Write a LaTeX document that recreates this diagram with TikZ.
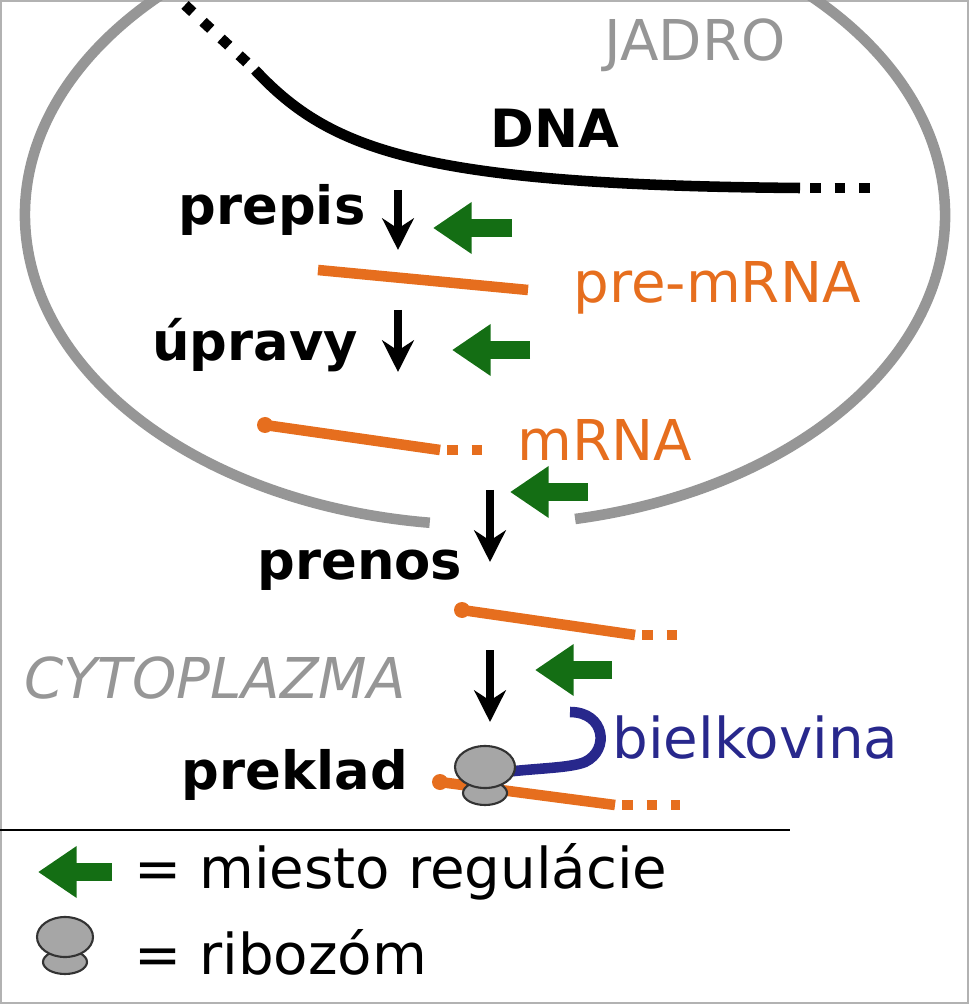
\documentclass[tikz,border=0pt]{standalone}
\usepackage{fontspec}
\setmainfont{DejaVu Sans}
\usetikzlibrary{arrows.meta}
\definecolor{rna}{RGB}{230,110,30}
\definecolor{reg}{RGB}{20,110,20}
\definecolor{prot}{RGB}{40,40,140}
\definecolor{nuc}{RGB}{150,150,150}

\begin{document}
\begin{tikzpicture}[x=0.01cm, y=-0.01cm,
	step lbl/.style={font=\bfseries\fontsize{15}{18}\selectfont},
	rna lbl/.style={text=rna, font=\fontsize{16}{19}\selectfont},
	flow/.style={-{Stealth[length=9pt,width=9pt]}, line width=2pt},
	regarrow/.style={-{Triangle[length=11pt,width=14pt]}, line width=5pt, reg},
	strand/.style={rna, line width=3pt},
	dots/.style={dash pattern=on 3pt off 4pt},
	ribo/.style={fill=gray!70, draw=gray!40!black, line width=0.6pt}]
	\useasboundingbox (0,0) rectangle (969,1004);
	\draw[gray!60] (1,1) rectangle (968,1003);

	% jadro
	\begin{scope}
	\clip (0,0) rectangle (969,1004);
	\draw[nuc, line width=3pt] (485,215) ++(-78.7:460 and -310) arc[start angle=-78.7, end angle=263.1, x radius=460, y radius=-310];
	\end{scope}
	\node[text=nuc, font=\fontsize{16}{19}\selectfont] (jadro) at (695,45) {JADRO};

	% DNA
	\draw[line width=3pt] (255,70) .. controls (330,150) and (420,185) .. (800,188);
	\draw[line width=3pt, dots] (185,5) -- (255,70);
	\draw[line width=3pt, dots] (810,188) -- (880,188);
	\node[step lbl] (dna) at (555,128) {DNA};

	% prepis
	\node[step lbl] (prepis) at (272,210) {prepis};
	\coordinate (p1) at (398,190); \coordinate (p2) at (398,250);
	\draw[flow] (p1) -- (p2);
	\coordinate (g1a) at (512,228); \coordinate (g1b) at (433,228);
	\draw[regarrow] (g1a) -- (g1b);
	\draw[strand] (318,270) -- (528,290);
	\node[rna lbl] (premrna) at (717,288) {pre-mRNA};

	% upravy
	\node[step lbl] (upravy) at (255,345) {úpravy};
	\coordinate (u1) at (398,310); \coordinate (u2) at (398,372);
	\draw[flow] (u1) -- (u2);
	\coordinate (g2a) at (530,350); \coordinate (g2b) at (452,350);
	\draw[regarrow] (g2a) -- (g2b);
	\fill[rna] (265,425) circle (8);
	\draw[strand] (265,425) -- (440,450);
	\draw[strand, dots] (447,450) -- (485,450);
	\node[rna lbl] (mrna) at (605,440) {mRNA};

	% prenos
	\coordinate (t1) at (490,490); \coordinate (t2) at (490,562);
	\draw[flow] (t1) -- (t2);
	\coordinate (g3a) at (588,492); \coordinate (g3b) at (510,492);
	\draw[regarrow] (g3a) -- (g3b);
	\node[step lbl] (prenos) at (360,570) {prenos};
	\fill[rna] (462,610) circle (8);
	\draw[strand] (462,610) -- (635,635);
	\draw[strand, dots] (642,635) -- (690,635);

	% cytoplazma
	\node[text=nuc, font=\itshape\fontsize{16}{19}\selectfont] (cyto) at (215,678) {CYTOPLAZMA};
	\coordinate (k1) at (490,650); \coordinate (k2) at (490,722);
	\draw[flow] (k1) -- (k2);
	\coordinate (g4a) at (612,670); \coordinate (g4b) at (535,670);
	\draw[regarrow] (g4a) -- (g4b);

	% preklad
	\node[step lbl] (preklad) at (295,775) {preklad};
	\fill[rna] (440,782) circle (8);
	\draw[strand] (440,782) -- (615,805);
	\draw[strand, dots] (622,805) -- (680,805);
	\draw[prot, line width=3pt] (505,772) .. controls (540,768) and (570,768) .. (585,762)
		.. controls (610,750) and (605,712) .. (570,712);
	\node[text=prot, font=\fontsize{16}{19}\selectfont, anchor=west] (bielk) at (600,738) {bielkovina};
	\draw[ribo] (485,793) ellipse (22 and 12);
	\draw[ribo] (485,767) ellipse (30 and 21);

	% legenda
	\draw[line width=0.8pt] (0,830) -- (790,830);
	\coordinate (la) at (112,872); \coordinate (lb) at (38,872);
	\draw[regarrow] (la) -- (lb);
	\node[anchor=west, font=\fontsize{16}{19}\selectfont] (leg1) at (122,872) {= miesto regulácie};
	\draw[ribo] (65,962) ellipse (22 and 12);
	\draw[ribo] (65,937) ellipse (28 and 20);
	\node[anchor=west, font=\fontsize{16}{19}\selectfont] (leg2) at (122,952) {= ribozóm};
\end{tikzpicture}
\end{document}
